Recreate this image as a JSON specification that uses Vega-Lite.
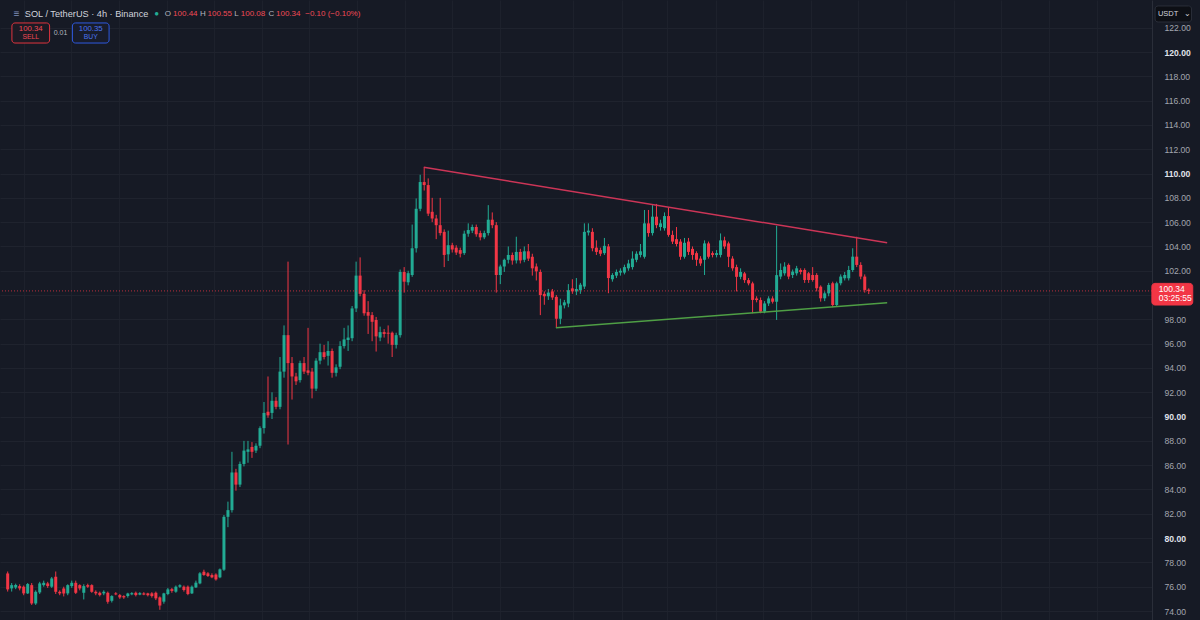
{
"$schema": "https://vega.github.io/schema/vega-lite/v6.json",
"width": 1152, "height": 620,
"autosize": {"type": "none"},
"padding": {"left": 0, "top": 0, "right": 48, "bottom": 0},
"background": "#161a25",
"config": {"view": {"stroke": null}, "font": "Liberation Sans", "axis": {"labelOverlap": false}},
"datasets": {
"candles": [
{"t":0,"o":77.09,"h":77.25,"l":75.6,"c":75.78},{"t":1,"o":75.86,"h":76.3,"l":75.6,"c":76.13},{"t":2,"o":75.94,"h":76.25,"l":75.8,"c":76.13},{"t":3,"o":76.05,"h":76.2,"l":75.7,"c":75.86},{"t":4,"o":76.0,"h":76.1,"l":75.3,"c":75.45},{"t":5,"o":75.45,"h":76.3,"l":75.4,"c":76.22},{"t":6,"o":76.13,"h":76.3,"l":74.5,"c":74.62},{"t":7,"o":74.62,"h":75.7,"l":74.5,"c":75.58},{"t":8,"o":75.53,"h":76.4,"l":75.4,"c":76.27},{"t":9,"o":76.13,"h":76.5,"l":76.0,"c":76.32},
{"t":10,"o":76.27,"h":76.4,"l":75.9,"c":76.05},{"t":11,"o":76.0,"h":76.8,"l":75.9,"c":76.68},{"t":12,"o":76.82,"h":77.25,"l":75.4,"c":75.58},{"t":13,"o":75.58,"h":75.7,"l":75.3,"c":75.45},{"t":14,"o":75.86,"h":76.0,"l":75.2,"c":75.45},{"t":15,"o":75.45,"h":76.2,"l":75.3,"c":76.13},{"t":16,"o":76.05,"h":76.5,"l":75.9,"c":76.32},{"t":17,"o":76.32,"h":76.5,"l":75.4,"c":75.5},{"t":18,"o":76.13,"h":76.2,"l":75.7,"c":75.86},{"t":19,"o":75.5,"h":76.2,"l":74.95,"c":76.05},
{"t":20,"o":76.13,"h":76.25,"l":75.9,"c":76.0},{"t":21,"o":76.13,"h":76.2,"l":75.5,"c":75.58},{"t":22,"o":75.58,"h":75.7,"l":75.3,"c":75.45},{"t":23,"o":75.5,"h":75.6,"l":75.2,"c":75.31},{"t":24,"o":75.45,"h":75.7,"l":75.3,"c":75.58},{"t":25,"o":75.5,"h":75.6,"l":74.6,"c":74.76},{"t":26,"o":74.84,"h":75.3,"l":74.7,"c":75.23},{"t":27,"o":75.45,"h":75.55,"l":75.3,"c":75.37},{"t":28,"o":75.31,"h":75.4,"l":75.0,"c":75.12},{"t":29,"o":75.23,"h":75.3,"l":75.0,"c":75.12},
{"t":30,"o":75.23,"h":75.5,"l":75.1,"c":75.45},{"t":31,"o":75.37,"h":75.55,"l":75.3,"c":75.47},{"t":32,"o":75.5,"h":75.6,"l":75.2,"c":75.31},{"t":33,"o":75.35,"h":75.55,"l":75.3,"c":75.47},{"t":34,"o":75.45,"h":75.55,"l":75.3,"c":75.35},{"t":35,"o":75.45,"h":75.5,"l":75.2,"c":75.3},{"t":36,"o":75.45,"h":75.55,"l":75.1,"c":75.23},{"t":37,"o":75.5,"h":75.6,"l":74.9,"c":75.04},{"t":38,"o":75.12,"h":75.2,"l":74.1,"c":74.45},{"t":39,"o":74.77,"h":75.5,"l":74.6,"c":75.45},
{"t":40,"o":75.4,"h":75.9,"l":75.3,"c":75.78},{"t":41,"o":75.8,"h":75.9,"l":75.5,"c":75.65},{"t":42,"o":75.59,"h":76.1,"l":75.5,"c":76.0},{"t":43,"o":76.0,"h":76.2,"l":75.9,"c":76.12},{"t":44,"o":76.0,"h":76.1,"l":75.6,"c":75.73},{"t":45,"o":76.0,"h":76.1,"l":75.3,"c":75.4},{"t":46,"o":75.45,"h":76.1,"l":75.4,"c":76.0},{"t":47,"o":75.94,"h":76.5,"l":75.9,"c":76.33},{"t":48,"o":76.27,"h":77.2,"l":76.2,"c":77.1},{"t":49,"o":77.23,"h":77.4,"l":76.9,"c":76.96},
{"t":50,"o":77.1,"h":77.2,"l":76.8,"c":76.88},{"t":51,"o":76.96,"h":77.1,"l":76.7,"c":76.77},{"t":52,"o":77.0,"h":77.1,"l":76.5,"c":76.6},{"t":53,"o":76.77,"h":77.5,"l":76.7,"c":77.43},{"t":54,"o":77.4,"h":81.9,"l":77.3,"c":81.75},{"t":55,"o":81.75,"h":83.0,"l":80.9,"c":82.3},{"t":56,"o":82.3,"h":87.1,"l":82.1,"c":85.4},{"t":57,"o":85.4,"h":85.7,"l":83.9,"c":84.4},{"t":58,"o":84.4,"h":86.3,"l":84.2,"c":86.1},{"t":59,"o":86.1,"h":88.0,"l":85.9,"c":87.2},
{"t":60,"o":87.1,"h":88.0,"l":86.2,"c":87.3},{"t":61,"o":87.5,"h":87.9,"l":86.6,"c":87.1},{"t":62,"o":87.2,"h":87.8,"l":87.0,"c":87.6},{"t":63,"o":87.6,"h":89.2,"l":87.4,"c":89.05},{"t":64,"o":89.05,"h":91.2,"l":88.6,"c":90.3},{"t":65,"o":90.4,"h":93.3,"l":89.9,"c":90.1},{"t":66,"o":90.3,"h":92.0,"l":89.8,"c":91.3},{"t":67,"o":91.3,"h":91.6,"l":90.6,"c":90.8},{"t":68,"o":90.8,"h":94.9,"l":90.6,"c":93.7},{"t":69,"o":93.7,"h":97.5,"l":93.2,"c":96.7},
{"t":70,"o":96.7,"h":102.75,"l":87.7,"c":94.4},{"t":71,"o":94.4,"h":94.9,"l":91.4,"c":93.3},{"t":72,"o":93.3,"h":93.6,"l":92.6,"c":92.9},{"t":73,"o":93.0,"h":94.6,"l":92.8,"c":94.4},{"t":74,"o":94.4,"h":94.9,"l":93.5,"c":93.7},{"t":75,"o":93.8,"h":97.3,"l":93.4,"c":93.6},{"t":76,"o":93.7,"h":94.0,"l":91.5,"c":92.3},{"t":77,"o":92.3,"h":94.8,"l":92.1,"c":94.6},{"t":78,"o":94.6,"h":96.0,"l":94.3,"c":95.3},{"t":79,"o":95.3,"h":95.9,"l":94.7,"c":94.9},
{"t":80,"o":95.0,"h":96.2,"l":94.2,"c":95.4},{"t":81,"o":95.4,"h":95.6,"l":93.2,"c":93.6},{"t":82,"o":93.6,"h":94.3,"l":93.3,"c":94.05},{"t":83,"o":94.1,"h":96.2,"l":93.9,"c":95.8},{"t":84,"o":95.8,"h":97.3,"l":95.6,"c":96.35},{"t":85,"o":96.3,"h":97.5,"l":95.4,"c":96.5},{"t":86,"o":96.45,"h":99.1,"l":96.2,"c":98.9},{"t":87,"o":98.9,"h":102.75,"l":98.6,"c":101.6},{"t":88,"o":101.6,"h":103.1,"l":99.9,"c":100.1},{"t":89,"o":100.1,"h":100.4,"l":98.3,"c":98.5},
{"t":90,"o":98.6,"h":99.5,"l":96.8,"c":98.3},{"t":91,"o":98.35,"h":98.6,"l":96.2,"c":97.8},{"t":92,"o":97.95,"h":98.2,"l":95.35,"c":96.6},{"t":93,"o":96.5,"h":97.4,"l":96.2,"c":96.95},{"t":94,"o":96.95,"h":97.2,"l":96.5,"c":96.8},{"t":95,"o":96.9,"h":97.5,"l":96.0,"c":96.82},{"t":96,"o":96.9,"h":97.0,"l":94.9,"c":95.9},{"t":97,"o":95.9,"h":96.9,"l":95.6,"c":96.7},{"t":98,"o":96.7,"h":102.1,"l":96.5,"c":101.9},{"t":99,"o":101.9,"h":102.3,"l":100.2,"c":101.1},
{"t":100,"o":101.05,"h":102.0,"l":100.8,"c":101.8},{"t":101,"o":101.65,"h":105.8,"l":101.5,"c":103.85},{"t":102,"o":103.85,"h":107.95,"l":103.5,"c":107.1},{"t":103,"o":107.1,"h":109.9,"l":106.9,"c":109.3},{"t":104,"o":109.3,"h":110.5,"l":108.6,"c":109.05},{"t":105,"o":109.05,"h":109.6,"l":106.5,"c":106.7},{"t":106,"o":106.85,"h":108.0,"l":106.0,"c":106.3},{"t":107,"o":106.3,"h":106.6,"l":104.6,"c":105.75},{"t":108,"o":105.75,"h":108.0,"l":104.9,"c":105.1},{"t":109,"o":105.2,"h":105.4,"l":102.3,"c":103.3},
{"t":110,"o":103.35,"h":105.3,"l":102.8,"c":104.1},{"t":111,"o":104.1,"h":104.3,"l":103.5,"c":103.75},{"t":112,"o":103.9,"h":104.1,"l":103.3,"c":103.5},{"t":113,"o":103.7,"h":103.9,"l":103.1,"c":103.4},{"t":114,"o":103.45,"h":105.3,"l":103.3,"c":105.05},{"t":115,"o":105.05,"h":105.9,"l":104.8,"c":105.35},{"t":116,"o":105.3,"h":105.8,"l":105.1,"c":105.6},{"t":117,"o":105.6,"h":105.8,"l":104.8,"c":105.0},{"t":118,"o":105.1,"h":105.3,"l":104.5,"c":104.75},{"t":119,"o":104.75,"h":105.3,"l":104.6,"c":105.1},
{"t":120,"o":105.1,"h":107.4,"l":104.9,"c":106.2},{"t":121,"o":106.2,"h":106.8,"l":105.5,"c":105.75},{"t":122,"o":105.75,"h":106.0,"l":100.2,"c":101.65},{"t":123,"o":101.65,"h":102.5,"l":100.9,"c":102.35},{"t":124,"o":102.35,"h":103.0,"l":101.9,"c":102.9},{"t":125,"o":102.9,"h":104.0,"l":102.6,"c":103.3},{"t":126,"o":103.3,"h":103.5,"l":102.5,"c":102.85},{"t":127,"o":102.85,"h":104.8,"l":102.6,"c":103.55},{"t":128,"o":103.55,"h":103.8,"l":102.6,"c":102.85},{"t":129,"o":102.9,"h":104.0,"l":102.7,"c":103.6},
{"t":130,"o":103.6,"h":104.2,"l":102.8,"c":103.0},{"t":131,"o":103.15,"h":103.4,"l":101.6,"c":102.2},{"t":132,"o":102.35,"h":102.6,"l":101.2,"c":101.95},{"t":133,"o":101.9,"h":102.1,"l":98.35,"c":100.0},{"t":134,"o":100.1,"h":100.3,"l":99.2,"c":99.9},{"t":135,"o":99.9,"h":100.5,"l":99.6,"c":100.2},{"t":136,"o":100.3,"h":100.5,"l":99.6,"c":99.8},{"t":137,"o":99.85,"h":100.0,"l":97.3,"c":98.05},{"t":138,"o":98.05,"h":99.7,"l":97.6,"c":99.15},{"t":139,"o":99.15,"h":99.6,"l":98.9,"c":99.4},
{"t":140,"o":99.3,"h":100.9,"l":99.0,"c":100.4},{"t":141,"o":100.55,"h":101.3,"l":100.1,"c":100.3},{"t":142,"o":100.3,"h":101.4,"l":100.0,"c":100.5},{"t":143,"o":100.4,"h":101.0,"l":100.1,"c":100.85},{"t":144,"o":100.7,"h":105.9,"l":100.5,"c":105.2},{"t":145,"o":105.15,"h":105.9,"l":104.9,"c":105.3},{"t":146,"o":105.2,"h":105.5,"l":103.6,"c":103.85},{"t":147,"o":103.9,"h":104.5,"l":103.3,"c":103.55},{"t":148,"o":103.7,"h":103.9,"l":103.2,"c":103.4},{"t":149,"o":103.45,"h":104.7,"l":103.3,"c":104.05},
{"t":150,"o":104.0,"h":104.2,"l":100.15,"c":101.4},{"t":151,"o":101.3,"h":101.8,"l":101.1,"c":101.65},{"t":152,"o":101.6,"h":102.1,"l":101.4,"c":101.9},{"t":153,"o":101.85,"h":102.2,"l":101.6,"c":102.0},{"t":154,"o":101.85,"h":102.5,"l":101.7,"c":102.3},{"t":155,"o":102.2,"h":102.9,"l":102.0,"c":102.6},{"t":156,"o":102.3,"h":103.6,"l":102.1,"c":103.0},{"t":157,"o":102.9,"h":103.6,"l":102.7,"c":103.4},{"t":158,"o":103.3,"h":104.2,"l":103.1,"c":103.6},{"t":159,"o":103.15,"h":107.0,"l":103.0,"c":105.9},
{"t":160,"o":105.9,"h":107.0,"l":104.8,"c":105.1},{"t":161,"o":105.1,"h":107.4,"l":104.9,"c":106.45},{"t":162,"o":106.45,"h":107.5,"l":105.5,"c":105.75},{"t":163,"o":105.6,"h":106.2,"l":105.3,"c":105.9},{"t":164,"o":105.5,"h":106.8,"l":105.3,"c":106.5},{"t":165,"o":106.5,"h":107.2,"l":104.8,"c":104.95},{"t":166,"o":104.95,"h":105.3,"l":104.2,"c":104.4},{"t":167,"o":104.6,"h":105.6,"l":104.0,"c":104.2},{"t":168,"o":104.4,"h":104.6,"l":102.9,"c":103.15},{"t":169,"o":103.15,"h":104.7,"l":103.0,"c":104.3},
{"t":170,"o":104.4,"h":104.7,"l":103.3,"c":103.55},{"t":171,"o":103.8,"h":104.0,"l":102.9,"c":103.3},{"t":172,"o":103.45,"h":103.6,"l":102.4,"c":102.9},{"t":173,"o":103.0,"h":103.2,"l":102.4,"c":102.6},{"t":174,"o":102.9,"h":104.5,"l":101.65,"c":104.25},{"t":175,"o":104.25,"h":104.4,"l":103.0,"c":103.15},{"t":176,"o":103.45,"h":103.6,"l":103.1,"c":103.3},{"t":177,"o":103.3,"h":103.7,"l":103.1,"c":103.45},{"t":178,"o":103.3,"h":105.07,"l":103.1,"c":104.5},{"t":179,"o":104.5,"h":104.8,"l":103.8,"c":104.0},
{"t":180,"o":104.25,"h":104.4,"l":102.3,"c":103.15},{"t":181,"o":103.0,"h":103.2,"l":102.0,"c":102.2},{"t":182,"o":102.3,"h":102.5,"l":100.3,"c":101.5},{"t":183,"o":101.5,"h":102.2,"l":101.3,"c":101.9},{"t":184,"o":101.78,"h":101.9,"l":101.0,"c":101.23},{"t":185,"o":101.23,"h":101.4,"l":100.8,"c":100.96},{"t":186,"o":100.96,"h":101.1,"l":98.5,"c":99.6},{"t":187,"o":99.72,"h":99.9,"l":99.4,"c":99.59},{"t":188,"o":99.59,"h":99.8,"l":98.5,"c":98.63},{"t":189,"o":98.63,"h":99.5,"l":98.5,"c":99.31},
{"t":190,"o":99.31,"h":99.9,"l":99.1,"c":99.72},{"t":191,"o":99.72,"h":99.9,"l":99.3,"c":99.45},{"t":192,"o":99.45,"h":105.7,"l":97.95,"c":101.64},{"t":193,"o":101.52,"h":102.6,"l":101.3,"c":102.06},{"t":194,"o":101.79,"h":102.7,"l":101.6,"c":102.34},{"t":195,"o":102.48,"h":102.6,"l":101.3,"c":101.52},{"t":196,"o":101.65,"h":102.1,"l":101.4,"c":101.93},{"t":197,"o":101.79,"h":102.4,"l":101.6,"c":102.2},{"t":198,"o":102.06,"h":102.2,"l":101.7,"c":101.9},{"t":199,"o":102.06,"h":102.2,"l":101.0,"c":101.24},
{"t":200,"o":101.79,"h":101.9,"l":101.0,"c":101.24},{"t":201,"o":101.65,"h":102.3,"l":101.1,"c":101.24},{"t":202,"o":101.65,"h":101.8,"l":100.3,"c":100.56},{"t":203,"o":100.69,"h":100.8,"l":99.46,"c":99.73},{"t":204,"o":99.73,"h":100.3,"l":99.5,"c":100.14},{"t":205,"o":100.14,"h":101.0,"l":99.9,"c":100.83},{"t":206,"o":100.97,"h":101.1,"l":99.0,"c":99.18},{"t":207,"o":99.18,"h":101.1,"l":99.1,"c":100.97},{"t":208,"o":100.97,"h":101.7,"l":100.8,"c":101.52},{"t":209,"o":101.38,"h":101.9,"l":101.2,"c":101.65},
{"t":210,"o":101.38,"h":102.4,"l":101.2,"c":102.06},{"t":211,"o":102.06,"h":103.85,"l":101.9,"c":103.16},{"t":212,"o":103.16,"h":104.8,"l":102.3,"c":102.48},{"t":213,"o":102.48,"h":102.7,"l":101.3,"c":101.52},{"t":214,"o":101.52,"h":101.7,"l":100.2,"c":100.42},{"t":215,"o":100.44,"h":100.55,"l":100.08,"c":100.34}
],
"trend": [
{"t":103.9,"p":110.51,"t2":219.6,"p2":104.31,"col":"#cc3557"},
{"t":136.9,"p":97.31,"t2":219.6,"p2":99.37,"col":"#4f9f45"}
],
"boxes": [
{"t":1.06,"p":122.39,"t2":10.47,"p2":120.74,"fill":"#1c1a24","stroke":"#e0343f"},
{"t":16.16,"p":122.39,"t2":25.32,"p2":120.74,"fill":"#181c2b","stroke":"#2f5ae0"},
{"t":286.5,"p":123.79,"t2":295.6,"p2":122.47,"fill":"#0d0f15","stroke":"#2a2e39"},
{"t":285.7,"p":100.96,"t2":295.9,"p2":99.18,"fill":"#f23645","stroke":"#f23645"}
],
"textLeft": [
{"t":1.5,"p":123.13,"txt":"≡","col":"#7f8db8","fs":10},
{"t":4.28,"p":123.13,"txt":"SOL / TetherUS · 4h · Binance","col":"#d1d4dc","fs":9.2},
{"t":39.2,"p":123.13,"txt":"O","col":"#b2b5be","fs":8},
{"t":41.3,"p":123.13,"txt":"100.44","col":"#f04a55","fs":8},
{"t":48.0,"p":123.13,"txt":"H","col":"#b2b5be","fs":8},
{"t":49.9,"p":123.13,"txt":"100.55","col":"#f04a55","fs":8},
{"t":56.6,"p":123.13,"txt":"L","col":"#b2b5be","fs":8},
{"t":58.2,"p":123.13,"txt":"100.08","col":"#f04a55","fs":8},
{"t":65.1,"p":123.13,"txt":"C","col":"#b2b5be","fs":8},
{"t":67.0,"p":123.13,"txt":"100.34","col":"#f04a55","fs":8},
{"t":74.3,"p":123.13,"txt":"−0.10 (−0.10%)","col":"#f04a55","fs":8},
{"t":287.2,"p":123.13,"txt":"USDT","col":"#d1d4dc","fs":7.5},
{"t":287.4,"p":100.47,"txt":"100.34","col":"#ffffff","fs":8.5},
{"t":287.4,"p":99.78,"txt":"03:25:55","col":"#ffffff","fs":8.5}
],
"textCenter": [
{"t":37.2,"p":123.13,"txt":"●","col":"#22ab94","fs":8},
{"t":5.77,"p":121.93,"txt":"100.34","col":"#f04a55","fs":7.8},
{"t":5.77,"p":121.2,"txt":"SELL","col":"#f04a55","fs":6.8},
{"t":13.2,"p":121.56,"txt":"0.01","col":"#b2b5be","fs":7},
{"t":20.74,"p":121.93,"txt":"100.35","col":"#4a74f0","fs":7.8},
{"t":20.74,"p":121.2,"txt":"BUY","col":"#4a74f0","fs":6.8},
{"t":294.6,"p":123.13,"txt":"⌄","col":"#d1d4dc","fs":8}
]
},
"layer": [
{
"data": {"name": "candles"},
"mark": {"type": "rule", "strokeWidth": 1},
"encoding": {
"x": {"field": "t", "type": "quantitative",
"scale": {"domain": [-0.668, 284.48], "nice": false, "zero": false},
"axis": {"title": null, "labels": false, "ticks": false, "domain": false, "grid": true, "gridColor": "#1d212c", "tickCount": 40,
"values": [4.0, 15.9, 27.8, 39.7, 51.6, 63.4, 75.3, 87.2, 99.1, 111.0, 122.9, 141.2, 153.3, 164.7, 176.8, 188.7, 200.5, 212.4, 224.3, 236.2, 248.1, 260.0, 271.9]}},
"y": {"field": "l", "type": "quantitative",
"scale": {"domain": [73.26, 124.28], "nice": false, "zero": false},
"axis": {"title": null, "orient": "right", "tickCount": 40, "values": [74,76,78,80,82,84,86,88,90,92,94,96,98,100,102,104,106,108,110,112,114,116,118,120,122],
"labelExpr": "datum.value === 100 ? '' : format(datum.value, '.2f')",
"grid": true, "gridColor": "#1f232e", "ticks": false, "domain": true, "domainColor": "#2a2e39",
"labelOverlap": false, "labelPadding": 12, "labelFontSize": 8.6, "labelFont": "Liberation Sans",
"labelColor": {"condition": {"test": "datum.value % 10 === 0", "value": "#e0e3eb"}, "value": "#a3a6af"},
"labelFontWeight": {"condition": {"test": "datum.value % 10 === 0", "value": "bold"}, "value": "normal"}}},
"y2": {"field": "h"},
"color": {"condition": {"test": "datum.c >= datum.o", "value": "#22ab94"}, "value": "#f23645"}
}
},
{
"data": {"name": "candles"},
"mark": {"type": "bar", "width": 3},
"encoding": {
"x": {"field": "t", "type": "quantitative"},
"y": {"field": "o", "type": "quantitative"},
"y2": {"field": "c"},
"color": {"condition": {"test": "datum.c >= datum.o", "value": "#22ab94"}, "value": "#f23645"}
}
},
{
"data": {"name": "trend"},
"mark": {"type": "rule", "strokeWidth": 1.5},
"encoding": {
"x": {"field": "t", "type": "quantitative"},
"y": {"field": "p", "type": "quantitative"},
"x2": {"field": "t2"},
"y2": {"field": "p2"},
"color": {"field": "col", "type": "nominal", "scale": null}
}
},
{
"data": {"values": [{"p": 100.34}]},
"mark": {"type": "rule", "strokeWidth": 1, "strokeDash": [1, 2], "color": "#f23645", "opacity": 0.75},
"encoding": {"y": {"field": "p", "type": "quantitative"}}
},
{
"data": {"name": "boxes"},
"mark": {"type": "rect", "cornerRadius": 3, "strokeWidth": 1},
"encoding": {
"x": {"field": "t", "type": "quantitative"},
"x2": {"field": "t2"},
"y": {"field": "p", "type": "quantitative"},
"y2": {"field": "p2"},
"fill": {"field": "fill", "type": "nominal", "scale": null},
"stroke": {"field": "stroke", "type": "nominal", "scale": null}
}
},
{
"data": {"name": "textLeft"},
"mark": {"type": "text", "align": "left", "baseline": "middle", "font": "Liberation Sans"},
"encoding": {
"x": {"field": "t", "type": "quantitative"},
"y": {"field": "p", "type": "quantitative"},
"text": {"field": "txt"},
"color": {"field": "col", "type": "nominal", "scale": null},
"size": {"field": "fs", "type": "quantitative", "scale": null}
}
},
{
"data": {"name": "textCenter"},
"mark": {"type": "text", "align": "center", "baseline": "middle", "font": "Liberation Sans"},
"encoding": {
"x": {"field": "t", "type": "quantitative"},
"y": {"field": "p", "type": "quantitative"},
"text": {"field": "txt"},
"color": {"field": "col", "type": "nominal", "scale": null},
"size": {"field": "fs", "type": "quantitative", "scale": null}
}
}
]
}
